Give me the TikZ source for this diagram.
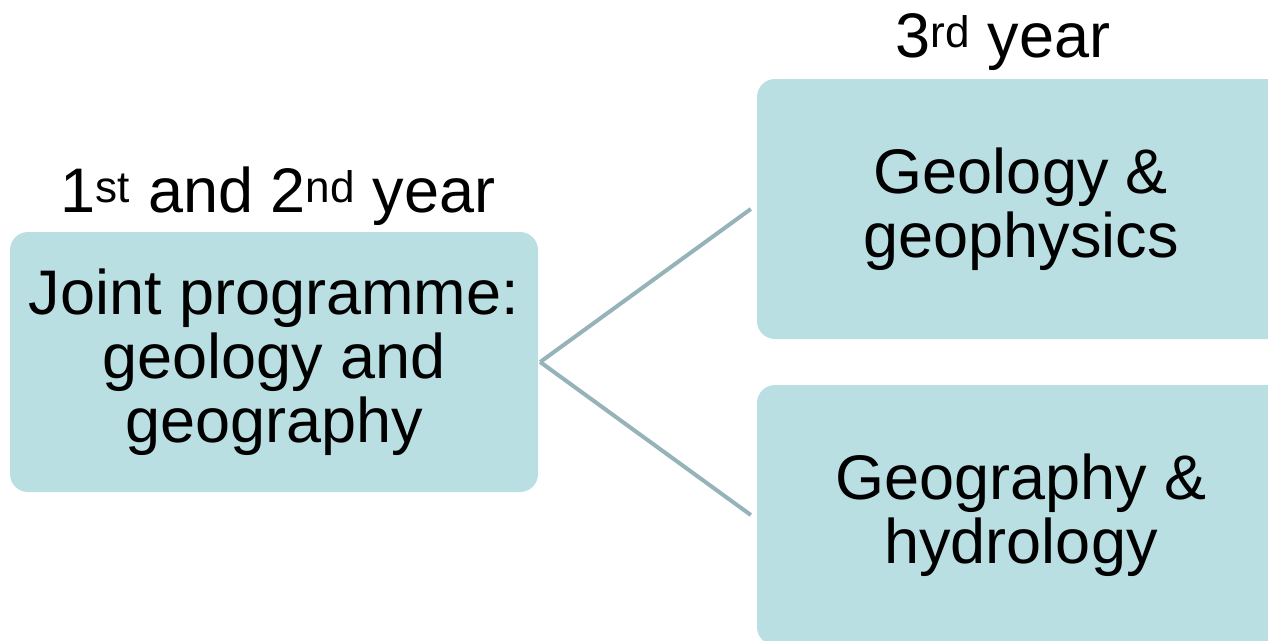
\documentclass[tikz,border=0pt]{standalone}
\usepackage{fontspec}
\setmainfont{Liberation Sans}
\definecolor{boxfill}{HTML}{BADFE3}
\definecolor{linkcol}{HTML}{95B3B8}
\begin{document}
\begin{tikzpicture}[x=1pt,y=-1pt,
  card/.style={fill=boxfill, rounded corners=18pt, inner sep=0pt, align=center,
    font=\fontsize{63}{64}\selectfont},
  heading/.style={anchor=base, inner sep=0pt, font=\fontsize{63}{63}\selectfont},
  link/.style={draw=linkcol, line width=4pt}]
\useasboundingbox (0,0) rectangle (1268,640);
\clip (0,0) rectangle (1268,640);
\node[card, minimum width=528pt, minimum height=260pt] (joint) at (274,362)
  {Joint programme:\\geology and\\geography};
\node[card, minimum width=528pt, minimum height=260pt] (geo1) at (1021,209)
  {Geology \&\\geophysics};
\node[card, minimum width=528pt, minimum height=260pt] (geo2) at (1021,515)
  {Geography \&\\hydrology};
\node[heading] (lab12) at (278,212) {1\textsuperscript{st} and 2\textsuperscript{nd} year};
\node[heading] (lab3) at (1003,57) {3\textsuperscript{rd} year};
\draw[link] ([xshift=2pt]joint.east) -- ([xshift=-6pt]geo1.west);
\draw[link] ([xshift=2pt]joint.east) -- ([xshift=-6pt]geo2.west);
\end{tikzpicture}
\end{document}
